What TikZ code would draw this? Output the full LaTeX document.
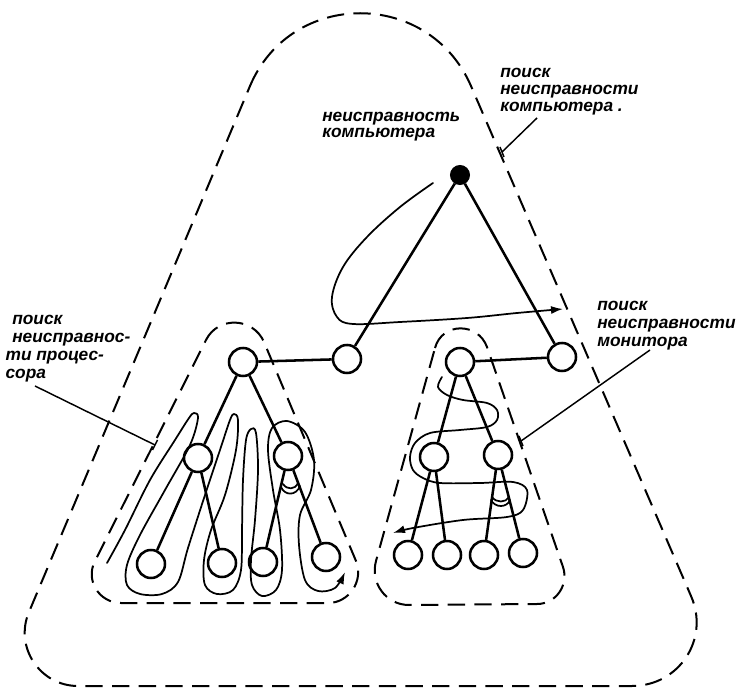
\documentclass[tikz,border=0pt]{standalone}
\usepackage{fontspec}
\newfontfamily\lblfont{Liberation Sans}
\usetikzlibrary{arrows.meta}

\begin{document}
\begin{tikzpicture}[x=0.75pt,y=-0.75pt,
  vertex/.style={circle,draw,line width=1.9pt,minimum size=21pt,inner sep=0pt},
  topvertex/.style={circle,draw,fill,line width=1pt,minimum size=14pt,inner sep=0pt},
  edge/.style={line width=1.9pt},
  region/.style={line width=1.5pt,dash pattern=on 13pt off 7pt},
  walk/.style={line width=1.3pt,line cap=round,line join=round},
  walkarrow/.style={walk,-{Latex[length=9pt,width=6pt]}},
  leader/.style={line width=1.1pt},
  lbl/.style={anchor=base west,inner sep=0pt,
    font=\lblfont\bfseries\itshape\fontsize{13}{13}\selectfont}
]
\useasboundingbox (0,0) rectangle (743,691);

% dashed regions
\draw[region] (250,86) .. controls (291,-11) and (429,-11) .. (471,86)
  -- (691,596) .. controls (710,639) and (679,686) .. (632,686)
  -- (78,686) .. controls (40,686) and (14,647) .. (29,612) -- cycle;
\draw[region] (206,340) .. controls (218,316) and (253,317) .. (264,342)
  -- (356,561) .. controls (364,581) and (349,603) .. (328,603)
  -- (121,603) .. controls (99,603) and (85,580) .. (95,561) -- cycle;
\draw[region] (435,348) .. controls (442,322) and (478,322) .. (487,347)
  -- (563,567) .. controls (569,585) and (556,604) .. (537,604)
  -- (409,605) .. controls (386,605) and (370,583) .. (376,561) -- cycle;

% tree nodes
\node[topvertex] (r) at (460,175) {};
\node[vertex] (a) at (347,359) {};
\node[vertex] (b) at (562,357) {};
\node[vertex] (p) at (243,362) {};
\node[vertex] (p1) at (198,458) {};
\node[vertex] (p2) at (288,456) {};
\node[vertex] (p11) at (151,564) {};
\node[vertex] (p12) at (222,563) {};
\node[vertex] (p21) at (263,562) {};
\node[vertex] (p22) at (326,557) {};
\node[vertex] (m) at (460,362) {};
\node[vertex] (m1) at (434,457) {};
\node[vertex] (m2) at (498,455) {};
\node[vertex] (m11) at (408,555) {};
\node[vertex] (m12) at (447,555) {};
\node[vertex] (m21) at (484,555) {};
\node[vertex] (m22) at (523,553) {};

% tree edges
\draw[edge] (r) -- (a);
\draw[edge] (r) -- (b);
\draw[edge] (p) -- (a);
\draw[edge] (m) -- (b);
\draw[edge] (p) -- (p1);
\draw[edge] (p) -- (p2);
\draw[edge] (p1) -- (p11);
\draw[edge] (p1) -- (p12);
\draw[edge] (p2) -- (p21);
\draw[edge] (p2) -- (p22);
\draw[edge] (m) -- (m1);
\draw[edge] (m) -- (m2);
\draw[edge] (m1) -- (m11);
\draw[edge] (m1) -- (m12);
\draw[edge] (m2) -- (m21);
\draw[edge] (m2) -- (m22);

% angle marks under the second children
\draw[walk] (281,487) .. controls (285,496) and (296,496) .. (300,486);
\draw[walk] (283,484) .. controls (287,490) and (295,490) .. (298,483);
\draw[walk] (491,500) .. controls (495,508) and (507,508) .. (510,500);
\draw[walk] (492,497) .. controls (496,503) and (506,503) .. (509,497);

% search route at the top level
\draw[walkarrow] plot[smooth,tension=0.6] coordinates {
  (433,183) (400,207) (367,237) (343,267) (332,297) (337,317) (353,324)
  (400,322) (467,318) (517,313) (563,309)};

% search route in the processor subtree
\draw[walkarrow] plot[smooth,tension=0.55] coordinates {
  (107,563) (125,530) (150,480) (175,440) (189,418) (194,413) (198,418)
  (190,445) (165,490) (140,535) (127,565) (127,585) (140,594) (162,594)
  (178,582) (188,548) (205,495) (220,450) (230,420) (234,414) (238,420)
  (236,450) (225,495) (211,530) (204,560) (205,585) (217,594) (233,590)
  (241,570) (242,530) (243,480) (246,440) (251,429) (256,433) (258,470)
  (255,520) (251,560) (252,585) (262,596) (276,590) (282,570) (280,530)
  (273,490) (268,450) (272,428) (287,421) (305,432) (314,460) (311,490)
  (300,515) (299,545) (305,580) (318,591) (335,588) (345,572)};

% search route in the monitor subtree
\draw[walkarrow] plot[smooth,tension=0.55] coordinates {
  (442,377) (438,387) (447,395) (463,400) (487,403) (497,410) (497,420)
  (487,427) (460,430) (430,433) (415,443) (410,457) (413,470) (423,478)
  (440,483) (480,483) (513,482) (527,490) (523,510) (507,517) (463,520)
  (413,528) (393,533)};

% labels
\node[lbl] (tfault) at (322,122)
  {\vtop{\baselineskip=12pt \hbox{неисправность}\hbox{компьютера}}};
\node[lbl] (tcomp) at (500,78)
  {\vtop{\baselineskip=12.5pt \hbox{поиск}\hbox{неисправности}\hbox{компьютера .}}};
\node[lbl] (tproc) at (12,325)
  {\vtop{\baselineskip=13.3pt \hbox{поиск}\hbox{неисправнос-}%
    \hbox{\kern-5pt ти процес-}\hbox{\kern-5pt сора}}};
\node[lbl] (tmon) at (597,311)
  {\vtop{\baselineskip=13.5pt \hbox{поиск}\hbox{неисправности}\hbox{монитора}}};

% leader lines to the regions
\coordinate (cend) at (502,152);
\coordinate (pend) at (155,445);
\coordinate (mend) at (521,441);
\draw[leader] (537,118) -- (cend);
\draw[leader] (35,386) -- (pend);
\draw[leader] (650,350) -- (mend);
\draw[leader] ([shift={(-2,-5)}]cend) -- ([shift={(2,5)}]cend);
\draw[leader] ([shift={(2.5,-5)}]pend) -- ([shift={(-2.5,5)}]pend);
\draw[leader] ([shift={(-2,-5)}]mend) -- ([shift={(2,5)}]mend);
\end{tikzpicture}
\end{document}
